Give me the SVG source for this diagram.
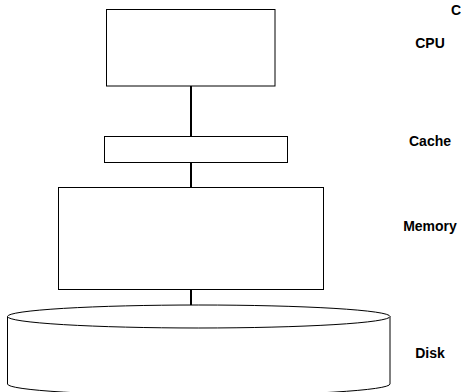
<svg xmlns="http://www.w3.org/2000/svg" width="461" height="392" viewBox="0 0 461 392">
<style>
.box{fill:#fff;stroke:#000;stroke-width:1}
.conn{stroke:#000;stroke-width:2;fill:none}
.lbl{font-family:"Liberation Sans",Arial,sans-serif;font-weight:bold;font-size:14px;fill:#000;text-anchor:middle}
</style>
<rect width="461" height="392" fill="#fff"/>
<g id="connectors">
<line class="conn" x1="191" y1="86" x2="191" y2="137"/>
<line class="conn" x1="191" y1="162" x2="191" y2="188"/>
<line class="conn" x1="191" y1="289" x2="191" y2="306"/>
</g>
<g id="cpu"><rect class="box" x="106.5" y="9.5" width="168.5" height="76.5"/></g>
<g id="cache"><rect class="box" x="104.5" y="136.5" width="183" height="26"/></g>
<g id="memory"><rect class="box" x="58.5" y="187.5" width="265" height="102"/></g>
<g id="disk">
<path class="box" d="M7.5,316.5 V384 A191.25,11.5 0 0 0 390,384 V316.5"/>
<ellipse class="box" cx="198.75" cy="316.5" rx="191.25" ry="11.5"/>
</g>
<g id="labels">
<text class="lbl" x="451" y="15" style="text-anchor:start">C</text>
<text class="lbl" x="430" y="48">CPU</text>
<text class="lbl" x="430" y="146">Cache</text>
<text class="lbl" x="430" y="231">Memory</text>
<text class="lbl" x="430" y="358">Disk</text>
</g>
</svg>
